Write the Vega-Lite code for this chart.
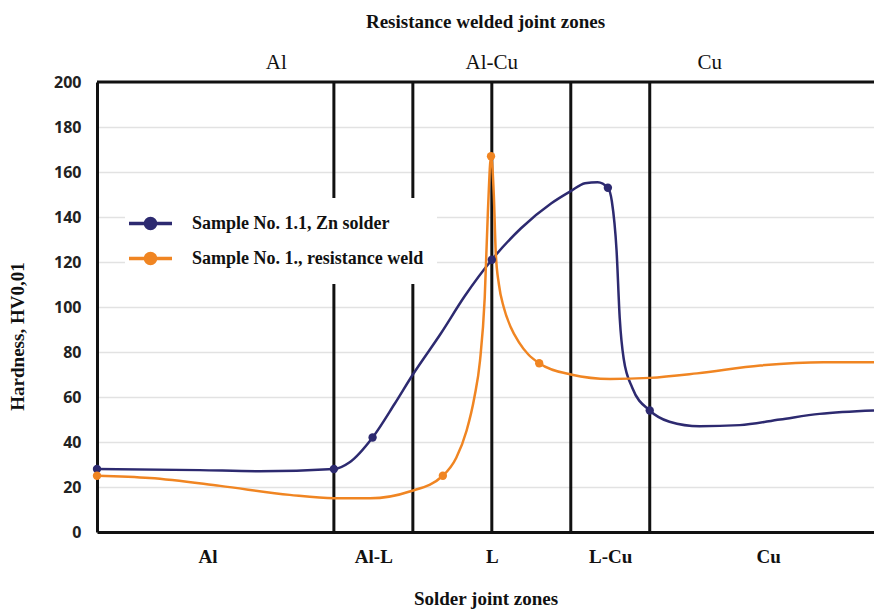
{
  "$schema": "https://vega.github.io/schema/vega-lite/v6.json",
  "width": 777,
  "height": 450,
  "autosize": "none",
  "padding": {"left": 97, "top": 82, "right": 0, "bottom": 78},
  "background": "white",
  "config": {"view": {"stroke": null}},
  "title": {"text": "Resistance welded joint zones", "font": "Liberation Serif", "fontSize": 19, "fontWeight": "bold", "color": "#111", "anchor": "middle", "offset": 20},
  "datasets": {
    "curves": [
      {"series": "Sample No. 1.1, Zn solder", "x": 0, "y": 28, "m": 1},
      {"series": "Sample No. 1.1, Zn solder", "x": 1.3, "y": 27.5, "m": 0},
      {"series": "Sample No. 1.1, Zn solder", "x": 2.06, "y": 27, "m": 0},
      {"series": "Sample No. 1.1, Zn solder", "x": 3, "y": 28, "m": 1},
      {"series": "Sample No. 1.1, Zn solder", "x": 3.2, "y": 31, "m": 0},
      {"series": "Sample No. 1.1, Zn solder", "x": 3.49, "y": 42, "m": 1},
      {"series": "Sample No. 1.1, Zn solder", "x": 3.77, "y": 57, "m": 0},
      {"series": "Sample No. 1.1, Zn solder", "x": 4, "y": 70, "m": 0},
      {"series": "Sample No. 1.1, Zn solder", "x": 4.35, "y": 88, "m": 0},
      {"series": "Sample No. 1.1, Zn solder", "x": 4.66, "y": 105, "m": 0},
      {"series": "Sample No. 1.1, Zn solder", "x": 5, "y": 121, "m": 1},
      {"series": "Sample No. 1.1, Zn solder", "x": 5.37, "y": 135, "m": 0},
      {"series": "Sample No. 1.1, Zn solder", "x": 5.75, "y": 146, "m": 0},
      {"series": "Sample No. 1.1, Zn solder", "x": 6, "y": 151.5, "m": 0},
      {"series": "Sample No. 1.1, Zn solder", "x": 6.18, "y": 155, "m": 0},
      {"series": "Sample No. 1.1, Zn solder", "x": 6.34, "y": 155.5, "m": 0},
      {"series": "Sample No. 1.1, Zn solder", "x": 6.47, "y": 153, "m": 1},
      {"series": "Sample No. 1.1, Zn solder", "x": 6.52, "y": 147, "m": 0},
      {"series": "Sample No. 1.1, Zn solder", "x": 6.58, "y": 125, "m": 0},
      {"series": "Sample No. 1.1, Zn solder", "x": 6.62, "y": 95, "m": 0},
      {"series": "Sample No. 1.1, Zn solder", "x": 6.67, "y": 77, "m": 0},
      {"series": "Sample No. 1.1, Zn solder", "x": 6.78, "y": 64, "m": 0},
      {"series": "Sample No. 1.1, Zn solder", "x": 7, "y": 54, "m": 1},
      {"series": "Sample No. 1.1, Zn solder", "x": 7.25, "y": 49, "m": 0},
      {"series": "Sample No. 1.1, Zn solder", "x": 7.63, "y": 47, "m": 0},
      {"series": "Sample No. 1.1, Zn solder", "x": 8.14, "y": 47.5, "m": 0},
      {"series": "Sample No. 1.1, Zn solder", "x": 8.65, "y": 50, "m": 0},
      {"series": "Sample No. 1.1, Zn solder", "x": 9.15, "y": 52.5, "m": 0},
      {"series": "Sample No. 1.1, Zn solder", "x": 9.84, "y": 54, "m": 0},
      {"series": "Sample No. 1., resistance weld", "x": 0, "y": 25, "m": 1},
      {"series": "Sample No. 1., resistance weld", "x": 0.67, "y": 24, "m": 0},
      {"series": "Sample No. 1., resistance weld", "x": 1.56, "y": 20.5, "m": 0},
      {"series": "Sample No. 1., resistance weld", "x": 2.44, "y": 16.5, "m": 0},
      {"series": "Sample No. 1., resistance weld", "x": 3, "y": 15, "m": 0},
      {"series": "Sample No. 1., resistance weld", "x": 3.46, "y": 15, "m": 0},
      {"series": "Sample No. 1., resistance weld", "x": 3.96, "y": 18, "m": 0},
      {"series": "Sample No. 1., resistance weld", "x": 4.38, "y": 25, "m": 1},
      {"series": "Sample No. 1., resistance weld", "x": 4.55, "y": 33, "m": 0},
      {"series": "Sample No. 1., resistance weld", "x": 4.68, "y": 45, "m": 0},
      {"series": "Sample No. 1., resistance weld", "x": 4.78, "y": 60, "m": 0},
      {"series": "Sample No. 1., resistance weld", "x": 4.85, "y": 76, "m": 0},
      {"series": "Sample No. 1., resistance weld", "x": 4.91, "y": 104, "m": 0},
      {"series": "Sample No. 1., resistance weld", "x": 4.95, "y": 142, "m": 0},
      {"series": "Sample No. 1., resistance weld", "x": 4.99, "y": 167, "m": 1},
      {"series": "Sample No. 1., resistance weld", "x": 5.025, "y": 150, "m": 0},
      {"series": "Sample No. 1., resistance weld", "x": 5.05, "y": 124, "m": 0},
      {"series": "Sample No. 1., resistance weld", "x": 5.09, "y": 110, "m": 0},
      {"series": "Sample No. 1., resistance weld", "x": 5.15, "y": 100, "m": 0},
      {"series": "Sample No. 1., resistance weld", "x": 5.24, "y": 91, "m": 0},
      {"series": "Sample No. 1., resistance weld", "x": 5.34, "y": 84.5, "m": 0},
      {"series": "Sample No. 1., resistance weld", "x": 5.46, "y": 79, "m": 0},
      {"series": "Sample No. 1., resistance weld", "x": 5.6, "y": 75, "m": 1},
      {"series": "Sample No. 1., resistance weld", "x": 6.0, "y": 70, "m": 0},
      {"series": "Sample No. 1., resistance weld", "x": 6.5, "y": 68, "m": 0},
      {"series": "Sample No. 1., resistance weld", "x": 7.0, "y": 68.5, "m": 0},
      {"series": "Sample No. 1., resistance weld", "x": 7.6, "y": 70.5, "m": 0},
      {"series": "Sample No. 1., resistance weld", "x": 8.4, "y": 74, "m": 0},
      {"series": "Sample No. 1., resistance weld", "x": 9.2, "y": 75.5, "m": 0},
      {"series": "Sample No. 1., resistance weld", "x": 9.84, "y": 75.5, "m": 0}
    ],
    "dividers": [{"x": 3}, {"x": 4}, {"x": 5}, {"x": 6}, {"x": 7}],
    "topzones": [
      {"label": "Al", "x": 2.27, "y": 208.5},
      {"label": "Al-Cu", "x": 5.0, "y": 208.5},
      {"label": "Cu", "x": 7.76, "y": 208.5}
    ]
  },
  "data": {"name": "curves"},
  "encoding": {
    "x": {
      "field": "x", "type": "quantitative",
      "scale": {"domain": [0, 9.84], "nice": false, "zero": false},
      "axis": {
        "values": [1.4, 3.5, 5, 6.5, 8.5],
        "labelExpr": "datum.value == 1.4 ? 'Al' : datum.value == 3.5 ? 'Al-L' : datum.value == 5 ? 'L' : datum.value == 6.5 ? 'L-Cu' : 'Cu'",
        "grid": false, "ticks": false,
        "domain": true, "domainColor": "#111", "domainWidth": 3,
        "labelFont": "Liberation Serif", "labelFontSize": 19, "labelFontWeight": "bold", "labelColor": "#111",
        "labelPadding": 15,
        "title": "Solder joint zones",
        "titleFont": "Liberation Serif", "titleFontSize": 19, "titleFontWeight": "bold", "titleColor": "#111",
        "titlePadding": 23
      }
    },
    "y": {
      "field": "y", "type": "quantitative",
      "scale": {"domain": [0, 200], "nice": false},
      "axis": {
        "values": [0, 20, 40, 60, 80, 100, 120, 140, 160, 180, 200],
        "grid": true, "gridColor": "#e2e2e2", "gridWidth": 1.5,
        "ticks": false,
        "domain": true, "domainColor": "#111", "domainWidth": 3,
        "labelFont": "Open Sans", "labelFontSize": 16, "labelFontWeight": "bold", "labelColor": "#222",
        "labelPadding": 16,
        "title": "Hardness, HV0,01",
        "titleFont": "Liberation Serif", "titleFontSize": 19, "titleFontWeight": "bold", "titleColor": "#111",
        "titlePadding": 26,
        "titleY": 254
      }
    }
  },
  "layer": [
    {
      "data": {"name": "dividers"},
      "mark": {"type": "rule", "color": "#111", "strokeWidth": 3},
      "encoding": {"x": {"field": "x", "type": "quantitative"}, "y": null}
    },
    {
      "data": {"values": [{"y": 200}]},
      "mark": {"type": "rule", "color": "#111", "strokeWidth": 3},
      "encoding": {"y": {"field": "y", "type": "quantitative"}, "x": null}
    },
    {
      "data": {"name": "topzones"},
      "mark": {"type": "text", "font": "Liberation Serif", "fontSize": 21, "color": "#111", "clip": false, "baseline": "middle"},
      "encoding": {"text": {"field": "label"}}
    },
    {
      "mark": {"type": "line", "interpolate": "monotone", "strokeWidth": 2.5},
      "encoding": {
        "color": {
          "field": "series", "type": "nominal",
          "scale": {"domain": ["Sample No. 1.1, Zn solder", "Sample No. 1., resistance weld"], "range": ["#2d2a70", "#f08522"]},
          "legend": {
            "orient": "none", "legendX": 28, "legendY": 116,
            "title": null,
            "fillColor": "white", "padding": 13,
            "symbolType": "M -2 0 L 2 0 M -0.47 0 A 0.47 0.47 0 1 1 0.47 0 A 0.47 0.47 0 1 1 -0.47 0 Z",
            "symbolSize": 462, "symbolStrokeWidth": 3.5,
            "labelFont": "Liberation Serif", "labelFontSize": 18, "labelFontWeight": "bold", "labelColor": "#111",
            "labelOffset": 29, "rowPadding": 10, "labelLimit": 400
          }
        }
      }
    },
    {
      "transform": [{"filter": "datum.m == 1"}],
      "mark": {"type": "point", "filled": true, "size": 70, "opacity": 1},
      "encoding": {
        "color": {"field": "series", "type": "nominal", "legend": null}
      }
    }
  ]
}
